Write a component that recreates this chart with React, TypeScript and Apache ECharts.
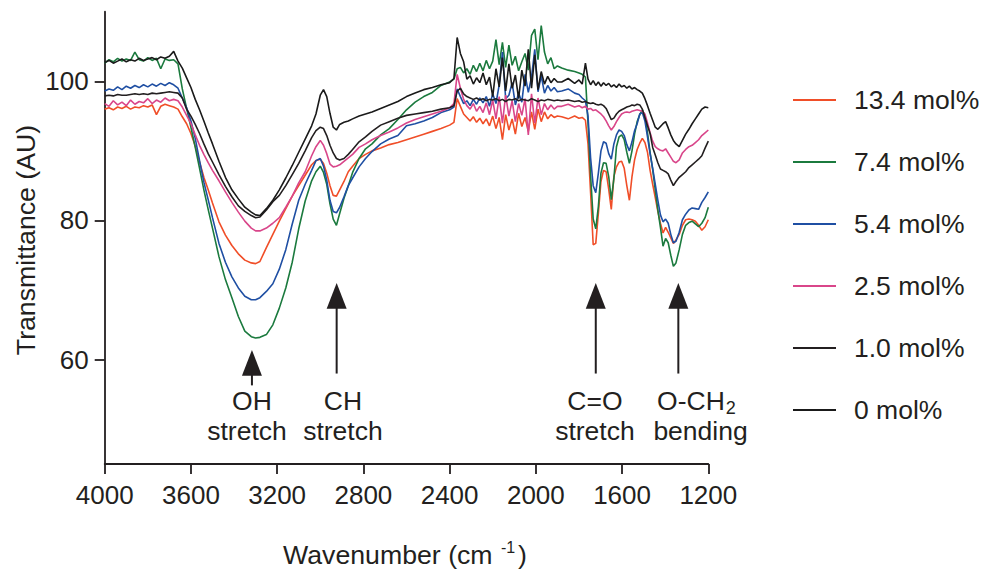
import React, { useEffect, useRef } from "react";
import * as echarts from "echarts";

const FONT = "'Liberation Sans', Arial, Helvetica, sans-serif";
const INK = "#231F20";

// Wavenumber grid (cm-1), shared by all spectra
const wavenumbers = [
  4000, 3980, 3960, 3940, 3920, 3900, 3880, 3860, 3840, 3820, 3800, 3780, 3760, 3740, 3720, 3700, 3680,
  3660, 3640, 3620, 3600, 3580, 3560, 3540, 3520, 3500, 3470, 3440, 3410, 3380, 3350, 3320, 3300, 3280,
  3250, 3220, 3190, 3160, 3130, 3100, 3070, 3040, 3020, 3000, 2985, 2970, 2955, 2940, 2925, 2910, 2890, 2870, 2850, 2820, 2790,
  2760, 2720, 2680, 2640, 2600, 2560, 2520, 2480, 2440, 2400, 2380, 2365,
  2350, 2335, 2320, 2305, 2290, 2275, 2260, 2245, 2230, 2215, 2200, 2185, 2170, 2155, 2140, 2125, 2110, 2095, 2080, 2065,
  2050, 2035, 2020, 2005, 1990, 1975, 1960, 1945, 1930, 1915, 1900,
  1880, 1850, 1820, 1800, 1785, 1770,
  1758, 1746, 1734, 1722, 1710, 1698, 1686, 1674, 1662, 1650,
  1638, 1626, 1614, 1602, 1590, 1578, 1566, 1554, 1542, 1530,
  1518, 1506, 1494, 1482, 1470, 1458, 1446, 1434, 1422, 1410,
  1398, 1386, 1374, 1362, 1350,
  1335, 1320, 1305, 1290, 1275, 1260, 1245, 1230, 1215, 1200,
];

// Transmittance (AU) per sample
const t134 = [
  96.0, 96.2, 95.9, 96.3, 96.1, 96.4, 96.0, 96.3, 96.2, 96.5, 96.3, 96.6, 95.2, 96.4, 96.7, 96.5, 96.3,
  96.0, 94.9, 93.9, 92.5, 90.7, 88.4, 86.2, 84.4, 82.5, 79.8, 77.9, 76.4, 75.2, 74.3, 73.9, 73.8, 74.1,
  76.1, 78.0, 79.9, 81.7, 83.5, 85.0, 86.5, 88.0, 88.6, 88.8, 88.2, 86.8, 85.0, 83.6, 83.5, 84.4, 85.6, 87.0, 87.8, 88.9, 89.5,
  90.0, 90.4, 90.9, 91.2, 91.6, 92.0, 92.4, 92.8, 93.2, 93.7, 94.1, 97.5,
  96.4, 95.3, 94.8, 94.3, 94.9, 94.1, 94.7, 93.9, 94.6, 93.6, 95.0, 93.2, 94.8, 91.6, 95.2, 93.0, 94.6, 92.4, 95.4, 93.5,
  94.8, 92.8, 95.6, 93.1, 96.0, 94.2, 95.6, 94.6, 95.2, 94.8, 95.0,
  94.9, 94.6, 95.0, 94.7, 94.8, 94.4,
  91.0, 84.0, 76.5, 76.7, 81.0, 85.6, 87.2, 87.0, 84.5, 81.6,
  86.3, 87.7, 88.4, 88.5, 87.5, 85.0, 82.9, 86.3, 88.7, 90.2,
  91.1, 91.8, 91.2, 89.8, 87.2, 85.2, 83.3, 81.3, 79.6, 78.2,
  79.0, 78.3, 77.5, 76.7, 77.2,
  78.0, 79.3, 80.1, 80.2, 80.1, 79.9, 79.3, 78.6, 79.1, 80.1,
];

const t74 = [
  102.6, 103.1, 102.8, 103.3, 102.9, 103.2, 103.0, 104.2, 103.1, 102.9, 103.4, 103.0, 103.3, 101.8, 103.2, 103.0, 103.1,
  102.5, 98.9, 96.1, 93.4, 90.5, 87.5, 84.4, 81.6, 78.9, 74.8, 71.5, 68.9, 66.2, 64.1, 63.3, 63.1, 63.2,
  63.6, 65.0, 67.4, 70.3, 74.0, 78.8, 82.8, 85.7, 87.0, 87.8, 86.9, 85.2, 82.4, 80.2, 79.3, 81.0, 83.2, 85.0, 86.9, 88.9, 90.3,
  91.0, 92.3, 93.2, 94.5, 95.9, 97.0, 97.8, 98.4, 99.4, 99.9, 100.3, 101.8,
  102.0, 101.2, 101.8, 101.0, 102.3, 101.4, 102.6, 101.5, 103.0, 101.8, 102.9, 106.0, 102.4, 105.6, 102.0, 105.2, 102.3, 103.6, 101.5, 102.8,
  104.0, 101.6, 106.6, 107.5, 103.1, 108.0, 104.2, 102.5, 103.4, 101.8, 102.2,
  101.9, 101.6, 101.4, 101.2, 101.0, 100.6,
  94.0, 86.5, 80.2, 78.8, 82.0, 86.8, 88.3, 88.2, 86.3, 83.0,
  86.0, 90.6, 92.0, 92.3, 91.6, 89.8, 88.2, 90.0, 92.4, 94.2,
  95.2, 95.9, 95.0, 92.6, 89.8, 87.3, 84.4, 81.5, 79.0, 76.3,
  77.4, 76.8, 75.0, 73.4, 73.9,
  75.8, 78.0, 79.3, 79.7, 79.9, 79.5, 79.1, 79.6, 80.4, 81.9,
];

const t54 = [
  98.6, 98.9, 98.7, 99.2, 98.8, 99.3, 99.0, 99.4, 99.1, 99.5, 99.2, 99.6, 99.3, 99.7, 99.4, 99.8, 99.5,
  99.0, 97.6, 96.2, 94.3, 91.8, 88.6, 85.5, 83.0, 80.4, 76.7, 74.0, 71.9, 70.3, 69.1, 68.6, 68.6, 68.9,
  69.8, 70.9, 73.0, 75.8, 79.5, 82.9, 85.2, 87.2, 88.6, 88.9, 87.8, 85.8, 82.9, 81.3, 81.1, 81.9, 83.4, 85.0, 86.1, 87.7, 88.9,
  89.9, 91.0, 91.7, 92.2, 93.6, 93.9, 94.3, 94.8, 95.5, 95.9, 96.3, 98.9,
  97.8, 96.8, 97.2, 96.5, 97.4, 96.7, 97.6, 96.9, 97.8, 96.4, 98.2, 96.8, 99.5, 104.2, 97.5, 98.0, 99.8, 96.6, 98.3, 97.0,
  101.0, 98.4, 100.6, 104.6, 98.5, 100.8, 98.3, 99.4, 98.6, 99.1, 98.5,
  98.6, 98.9, 98.3, 98.1, 97.6, 97.2,
  95.0, 89.0, 85.0, 84.0, 86.8, 90.0, 91.3, 91.1, 89.6, 88.8,
  91.0, 92.3, 93.0, 92.8, 92.2, 90.9, 90.0, 91.3, 92.9, 93.9,
  95.3, 95.5, 94.3, 92.0, 89.6, 87.5, 85.2, 82.9, 80.8, 79.8,
  80.2, 79.6, 78.0, 76.8, 77.0,
  78.3, 80.1, 80.9, 81.5, 81.8, 81.7, 81.6, 82.6, 83.3, 84.1,
];

const t25 = [
  96.8, 96.4, 97.2, 96.6, 97.0, 96.5, 97.3, 96.7, 97.1, 96.9, 97.5, 96.8, 97.3, 97.0, 97.6, 97.2, 97.4,
  97.2, 96.3, 95.1, 93.9, 92.3, 90.8, 89.5, 88.3, 87.2, 85.7, 84.1, 82.6, 81.2, 79.9, 78.9, 78.5, 78.5,
  78.9, 79.6, 80.4, 81.9, 83.5, 85.4, 87.0, 89.3, 90.6, 91.5, 90.8, 89.6, 88.1, 87.7, 87.8, 88.0, 88.5, 89.0, 89.5, 90.5, 91.0,
  91.6, 92.2, 92.7, 93.3, 94.0, 94.5, 94.9, 95.3, 95.7, 96.2, 96.8, 101.0,
  99.0, 97.4, 96.5, 96.0, 96.8, 95.7, 96.4, 95.5, 96.9, 95.2, 97.3, 94.6, 97.8, 94.0, 98.0, 95.0, 97.2, 94.2, 96.8, 95.1,
  97.5, 92.3, 98.2, 94.0, 97.6, 95.2, 96.8, 95.9, 96.6, 96.0, 96.4,
  96.4, 96.7, 96.3, 96.5, 96.2, 96.4,
  96.0, 96.1, 95.8, 95.9, 95.6, 95.3, 94.9, 94.3, 93.6, 93.0,
  93.5, 94.2, 94.8, 95.3, 95.5, 95.6, 95.5, 95.7, 95.8, 95.9,
  95.8, 95.7, 95.3, 94.0, 92.6, 91.4, 90.6, 90.3, 90.1, 90.0,
  90.3, 89.7, 89.1, 88.5, 88.3,
  88.7, 89.7, 90.2, 90.6, 90.8, 91.2, 91.6, 92.2, 92.6, 93.0,
];

const t10 = [
  97.9, 98.0, 97.9, 98.1, 98.0, 98.0, 98.1, 98.2, 98.1, 98.2, 98.1, 98.3, 98.2, 98.3, 98.4, 98.5, 98.4,
  98.3, 97.6, 96.0, 95.0, 93.8, 92.5, 91.0, 89.6, 88.4, 86.6, 84.9, 83.4, 82.1, 81.3, 80.7, 80.4, 80.5,
  81.5, 82.7, 83.6, 85.0, 86.6, 88.2, 90.0, 91.9, 92.9, 93.4, 93.2, 92.2, 90.8, 89.7, 88.9, 88.7, 88.9, 89.5, 90.2, 91.3, 92.0,
  92.8, 93.7, 94.2, 94.7, 95.1, 95.3, 95.5, 95.7, 96.0, 96.2, 96.5, 98.6,
  99.0, 98.2, 97.8, 97.6, 97.4, 97.6, 97.3, 97.5, 97.2, 97.4, 97.3, 97.5, 97.2, 97.4, 97.1, 97.4, 97.3, 97.5, 97.2, 97.4,
  97.3, 97.2, 97.5, 97.3, 97.1, 97.3, 97.2, 97.4, 97.3, 97.2, 97.3,
  97.2, 97.3, 97.1, 97.2, 97.0, 97.1,
  96.9, 96.8, 96.9, 96.7, 96.6, 96.7, 96.5, 96.1, 95.3, 94.5,
  94.7, 95.3, 95.7, 95.9, 96.1, 96.3, 96.4, 96.6, 96.5, 96.7,
  96.6, 96.0, 94.8, 93.6, 92.5, 90.5, 89.4, 88.3, 87.4, 87.2,
  87.0, 86.7, 85.8, 85.0, 85.6,
  86.2, 86.6, 87.0, 87.6, 88.0, 88.4, 88.8, 89.3, 90.4, 91.4,
];

const t00 = [
  102.7, 103.0, 102.6, 102.9, 103.2, 102.8, 103.1, 102.9, 103.3, 103.0, 103.2, 103.4, 103.1, 103.5, 103.3, 103.6, 104.3,
  102.9, 101.9, 100.5, 99.1, 97.4, 95.9, 94.3, 92.6, 91.0, 88.5, 86.2, 84.4, 83.1, 81.9, 81.2, 80.8, 80.7,
  81.7, 82.9, 84.4, 86.1, 87.9, 89.8, 91.7, 93.6, 95.3, 98.0, 98.8, 97.8, 95.4, 93.4, 93.0, 93.8, 94.1, 94.3, 94.6, 95.0, 95.3,
  95.6, 96.1, 96.6, 97.1, 97.8, 98.3, 98.8, 99.1, 99.5, 99.8, 100.4, 106.3,
  104.0, 102.8, 100.3, 100.8, 99.6, 100.5, 99.8, 101.2, 99.5, 100.6, 97.8, 101.8, 99.2, 103.4, 98.6, 102.5, 99.0, 100.9, 97.5, 101.6,
  99.3, 104.6, 99.0, 103.8, 98.8, 101.4, 99.6, 100.7, 99.8, 100.4, 99.9,
  99.9, 100.4, 99.7, 100.2, 99.6, 102.6,
  100.3, 99.5, 100.1, 99.4, 99.9, 99.3, 99.8, 99.4, 99.7, 99.2,
  99.5, 99.1, 99.6, 99.2, 99.4, 99.0, 99.3, 98.9, 99.1, 98.8,
  98.6, 98.3, 97.5, 96.5, 95.4, 94.4, 93.4, 93.1, 93.5, 93.9,
  94.2, 93.3, 92.3, 91.5, 91.0,
  90.6, 91.5, 92.4, 93.1, 93.9, 94.6, 95.3, 96.0, 96.3, 96.2,
];

const seriesNames = ["13.4 mol%", "7.4 mol%", "5.4 mol%", "2.5 mol%", "1.0 mol%", "0 mol%"];
const seriesValues = [t134, t74, t54, t25, t10, t00];
const seriesColors = ["#F04E28", "#1B7A3E", "#1F4FA3", "#D9468A", "#231F20", "#1A1A1A"];

// Annotations (data units: wavenumber, transmittance)
const annotationArrowWn = [3317, 2924, 1722, 1339];
const annotationTip = [61.4, 71.0, 71.0, 71.0];
const annotationBase = [57.7, 67.3, 67.3, 67.3];
const annotationEnd = [56.3, 58.0, 58.0, 58.0];
const annotationLine1 = ["OH", "CH", "C=O", "O-CH"];
const annotationLine1Sub = ["", "", "", "2"];
const annotationLine2 = ["stretch", "stretch", "stretch", "bending"];
const annotationLine1Wn = [3317, 2895, 1726, 1258];
const annotationLine2Wn = [3340, 2895, 1726, 1236];
const annotationRowValues = [54.1, 49.7];

const yTickValues = [60, 80, 100];

export default function App() {
  const ref = useRef<HTMLDivElement>(null);

  useEffect(() => {
    if (!ref.current) return;
    const chart = echarts.init(ref.current, null, { renderer: "svg" });

    const lineSeries = seriesNames.map((name, k) => ({
      name,
      type: "line",
      data: wavenumbers.map((w, i) => [w, seriesValues[k][i]]),
      showSymbol: false,
      symbol: "none",
      lineStyle: { color: seriesColors[k], width: 1.6 },
      itemStyle: { color: seriesColors[k] },
      z: 2 + k,
      silent: true,
    }));

    const annotationData = annotationArrowWn.map((w, i) => [
      w,
      annotationTip[i],
      annotationBase[i],
      annotationEnd[i],
      annotationLine1Wn[i],
      annotationLine2Wn[i],
    ]);

    const textStyle = (text: string, x: number, y: number, size: number, align: string) => ({
      type: "text",
      x,
      y,
      style: {
        text,
        fontSize: size,
        fontFamily: FONT,
        fill: INK,
        align,
        verticalAlign: "middle",
        textAlign: align,
        textVerticalAlign: "middle",
      },
    });

    const annotationSeries = {
      type: "custom",
      name: "annotations",
      clip: false,
      silent: true,
      z: 20,
      data: annotationData,
      renderItem: (params: any, api: any) => {
        const i = params.dataIndex;
        const tip = api.coord([api.value(0), api.value(1)]);
        const base = api.coord([api.value(0), api.value(2)]);
        const end = api.coord([api.value(0), api.value(3)]);
        const l1 = api.coord([api.value(4), annotationRowValues[0]]);
        const l2 = api.coord([api.value(5), annotationRowValues[1]]);
        const ax = tip[0];
        const children: any[] = [
          {
            type: "polygon",
            shape: { points: [[ax, tip[1]], [ax - 10, base[1]], [ax + 10, base[1]]] },
            style: { fill: INK },
          },
          {
            type: "line",
            shape: { x1: ax, y1: base[1] - 1, x2: ax, y2: end[1] },
            style: { stroke: INK, lineWidth: 2 },
          },
        ];
        if (annotationLine1Sub[i]) {
          const mainW = 68;
          const subW = 10;
          const split = l1[0] - (mainW + subW) / 2 + mainW;
          children.push(textStyle(annotationLine1[i], split, l1[1], 26.5, "right"));
          children.push(textStyle(annotationLine1Sub[i], split + 1, l1[1] + 7, 18, "left"));
        } else {
          children.push(textStyle(annotationLine1[i], l1[0], l1[1], 26.5, "center"));
        }
        children.push(textStyle(annotationLine2[i], l2[0], l2[1], 26.5, "center"));
        return { type: "group", children };
      },
    };

    chart.setOption({
      animation: false,
      backgroundColor: "#ffffff",
      grid: { left: 104.7, right: 277.7, top: 11.7, bottom: 107, containLabel: false },
      xAxis: {
        type: "value",
        min: 1200,
        max: 4000,
        interval: 400,
        inverse: true,
        axisLine: { show: true, onZero: false, lineStyle: { color: INK, width: 1.8 } },
        axisTick: { show: true, length: 10, lineStyle: { color: INK, width: 1.8 } },
        axisLabel: {
          show: true,
          fontSize: 26,
          fontFamily: FONT,
          color: INK,
          margin: 18,
          showMinLabel: true,
          showMaxLabel: true,
          formatter: (v: number) => String(v),
        },
        splitLine: { show: false },
      },
      yAxis: {
        type: "value",
        min: 45,
        max: 110,
        axisLine: { show: true, onZero: false, lineStyle: { color: INK, width: 1.8 } },
        axisTick: { show: true, length: 10, customValues: yTickValues, lineStyle: { color: INK, width: 1.8 } },
        axisLabel: {
          show: true,
          fontSize: 26,
          fontFamily: FONT,
          color: INK,
          margin: 16,
          customValues: yTickValues,
          formatter: (v: number) => String(v),
        },
        splitLine: { show: false },
      },
      legend: {
        data: seriesNames,
        orient: "vertical",
        left: 788,
        top: 80,
        icon: "rect",
        itemWidth: 43,
        itemHeight: 2.2,
        itemGap: 32,
        selectedMode: false,
        textStyle: {
          fontSize: 26.5,
          fontFamily: FONT,
          color: INK,
          lineHeight: 30,
          padding: [0, 0, 0, 13],
        },
      },
      graphic: [
        {
          type: "text",
          x: 26,
          y: 240,
          rotation: Math.PI / 2,
          style: {
            text: "Transmittance (AU)",
            fontSize: 26.7,
            fontFamily: FONT,
            fill: INK,
            align: "center",
            verticalAlign: "middle",
            textAlign: "center",
            textVerticalAlign: "middle",
          },
        },
        textStyle("Wavenumber (cm", 283, 555, 26.7, "left"),
        textStyle("-1", 501, 547, 16, "left"),
        textStyle(")", 518, 555, 26.7, "left"),
      ],
      series: [...lineSeries, annotationSeries],
    });

    return () => chart.dispose();
  }, []);

  return (
    <div
      ref={ref}
      style={{ position: "absolute", left: 0, top: 0, width: 986, height: 571, background: "#fff" }}
    />
  );
}
